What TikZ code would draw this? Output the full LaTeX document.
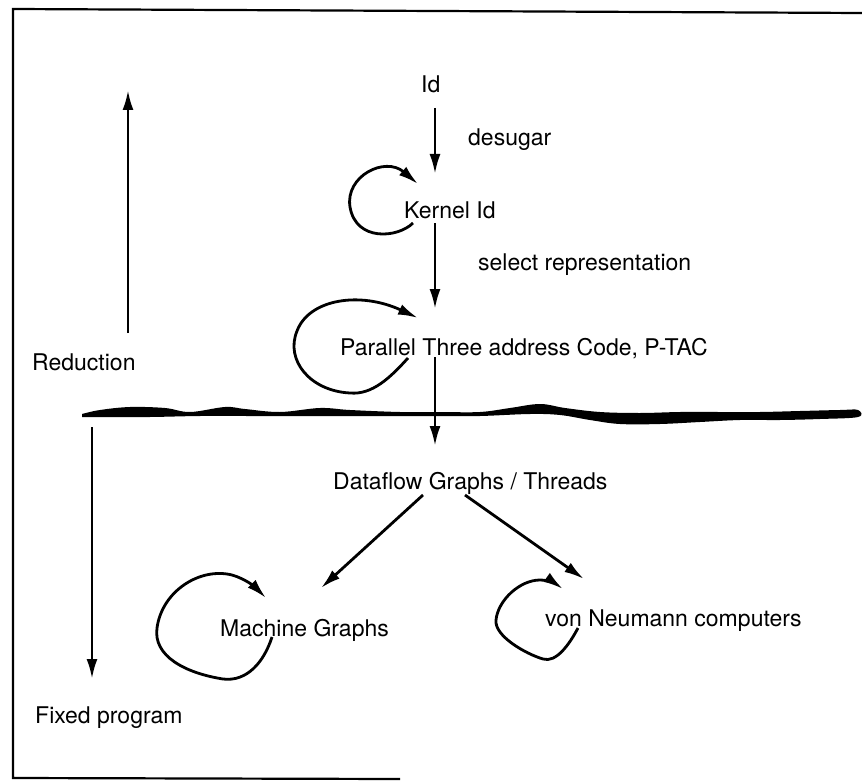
\documentclass[tikz,border=0pt]{standalone}
\usepackage{fontspec}
\setmainfont{TeX Gyre Heros}
\usetikzlibrary{arrows.meta}
\begin{document}
\begin{tikzpicture}[x=1pt,y=-1pt,
  lbl/.style={inner sep=0pt, anchor=west, text height=16pt, text depth=0pt, font=\fontsize{23}{26}\selectfont},
  arr/.style={line width=2.8pt, -{Latex[length=20pt,width=11pt]}},
  loopy/.style={line width=2.8pt, -{Latex[length=20pt,width=11pt]}},
  frame/.style={line width=2.2pt}]
\useasboundingbox (0,0) rectangle (862,781);
% frame
\draw[frame] (862,13) -- (13,9) -- (13,778) -- (400,779);
% labels
\node[lbl] (id) at (421,85) {Id};
\node[lbl] (desugar) at (468,138) {desugar};
\node[lbl] (kernel) at (404,210) {Kernel Id};
\node[lbl] (select) at (478,262) {select representation};
\node[lbl] (ptac) at (340,347) {Parallel Three address Code, P-TAC};
\node[lbl] (reduction) at (32,362) {Reduction};
\node[lbl] (dataflow) at (333,481) {Dataflow Graphs / Threads};
\node[lbl] (machine) at (220,628) {Machine Graphs};
\node[lbl] (vonn) at (545,618) {von Neumann computers};
\node[lbl] (fixed) at (35,715) {Fixed program};
% coordinates of connector ends
\coordinate (a1) at (435,108); \coordinate (a2) at (435,174);
\coordinate (b1) at (435,223); \coordinate (b2) at (435,309);
\coordinate (c1) at (435,357); \coordinate (c2) at (435,446);
\coordinate (d1) at (423,495); \coordinate (d2) at (321,588);
\coordinate (e1) at (465,495); \coordinate (e2) at (584,579);
\coordinate (r1) at (128,333); \coordinate (r2) at (128,90);
\coordinate (f1) at (92,427); \coordinate (f2) at (92,679);
% main arrows
\draw[arr] (a1) -- (a2);
\draw[arr] (b1) -- (b2);
\draw[arr] (c1) -- (c2);
\draw[arr] (d1) -- (d2);
\draw[arr] (e1) -- (e2);
\draw[arr] (r1) -- (r2);
\draw[arr] (f1) -- (f2);
% self loops
\draw[loopy] (413,223) .. controls (398,238) and (356,242) .. (350,207)
  .. controls (345,176) and (385,156) .. (418,184);
\draw[loopy] (408,358) .. controls (390,378) and (372,395) .. (350,393)
  .. controls (310,391) and (285,360) .. (297,331)
  .. controls (309,299) and (360,291) .. (418,318);
\draw[loopy] (272,637) .. controls (264,662) and (247,682) .. (223,679)
  .. controls (185,673) and (153,656) .. (157,628)
  .. controls (162,591) and (200,567) .. (232,575)
  .. controls (246,579) and (256,588) .. (266,598);
\draw[loopy] (578,628) .. controls (569,645) and (556,663) .. (543,659)
  .. controls (526,654) and (494,636) .. (496,620)
  .. controls (498,600) and (520,580) .. (540,580)
  .. controls (548,580) and (556,584) .. (563,589);
% wavy cut line
\fill plot[smooth, tension=0.6] coordinates {
  (82,414) (100,410) (130,407) (165,408) (190,412) (225,407) (245,409)
  (280,412) (320,408) (350,410) (400,412) (440,412) (480,412) (510,408)
  (540,404) (565,408) (600,412) (640,413) (680,412) (720,412) (760,412)
  (800,411) (840,410) (858,410)
  (858,417) (820,419) (780,420) (740,420) (700,422) (660,424) (620,424)
  (590,420) (560,415) (530,414) (480,416) (440,416) (400,416) (350,416)
  (300,416) (250,416) (200,416) (150,417) (110,417) (82,417)} -- cycle;
\end{tikzpicture}
\end{document}
